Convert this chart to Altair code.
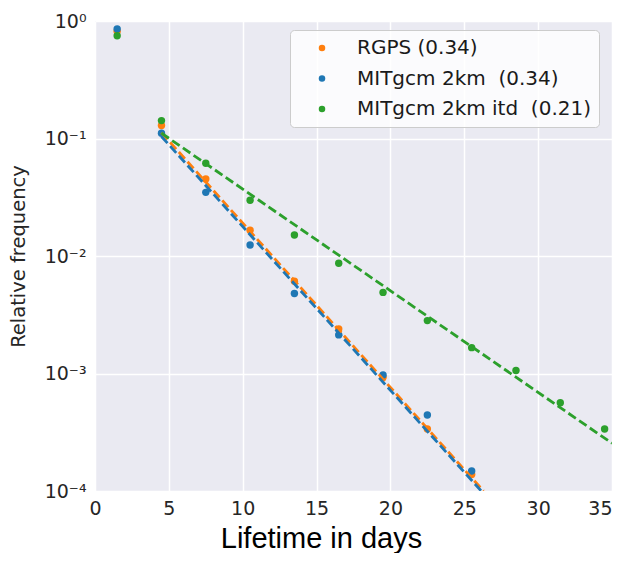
import altair as alt
import pandas as pd

# ---- data ----
x_days = [1.5, 4.5, 7.5, 10.5, 13.5, 16.5, 19.5, 22.5, 25.5, 28.5, 31.5, 34.5]
rgps = [0.82, 0.129, 0.0452, 0.0166, 0.0061, 0.00239, 0.00093, 0.000337, 0.000138]
mitgcm = [0.855, 0.111, 0.0348, 0.0124, 0.0048, 0.00213, 0.00097, 0.000444, 0.000148]
mitgcm_itd = [0.75, 0.142, 0.0615, 0.0298, 0.0151, 0.00867, 0.0049, 0.00282,
              0.00166, 0.00106, 0.000564, 0.000337]

# fitted exponential lines (end points)
fit_rgps_x = [4.5, 26.3]
fit_rgps_y = [0.112, 0.0001]
fit_mit_x = [4.5, 26.15]
fit_mit_y = [0.104, 0.0001]
fit_itd_x = [4.5, 35.0]
fit_itd_y = [0.111, 0.000255]

names = ["RGPS (0.34)", "MITgcm 2km\u00a0 (0.34)", "MITgcm 2km itd\u00a0 (0.21)"]
colors = ["#ff7f0e", "#1f77b4", "#2ca02c"]
y_ticks = [1, 0.1, 0.01, 0.001, 0.0001]
x_ticks = [0, 5, 10, 15, 20, 25, 30, 35]

rows = []
for name, vals in zip(names, [rgps, mitgcm, mitgcm_itd]):
    for i, v in enumerate(vals):
        rows.append({"series": name, "x": x_days[i], "y": v, "order": names.index(name)})
pts = pd.DataFrame(rows)

frows = []
for name, xs, ys in zip(names, [fit_rgps_x, fit_mit_x, fit_itd_x],
                        [fit_rgps_y, fit_mit_y, fit_itd_y]):
    for xv, yv in zip(xs, ys):
        frows.append({"series": name, "x": xv, "y": yv})
fits = pd.DataFrame(frows)

xscale = alt.Scale(domain=[0, 35], nice=False, zero=False)
yscale = alt.Scale(type="log", domain=[0.0001, 1], nice=False)

label_expr = ("datum.value >= 0.5 ? '10⁰' : datum.value >= 0.05 ? '10⁻¹' : "
              "datum.value >= 0.005 ? '10⁻²' : datum.value >= 0.0005 ? '10⁻³' : '10⁻⁴'")

xaxis = alt.Axis(values=x_ticks, title="Lifetime in days", grid=True, labelFlush=False,
                 labelAlign={"condition": {"test": "datum.value >= 35", "value": "right"},
                             "value": "center"},
                 titleFont="Liberation Sans", titleFontSize=29, titleFontWeight="normal",
                 titleColor="#000000", titleX=226, titleY=56, titleAlign="center",
                 titleBaseline="alphabetic", labelPadding=8)
yaxis = alt.Axis(values=y_ticks, title="Relative frequency", grid=True, labelExpr=label_expr,
                 labelFlush=False,
                 titleFontSize=19.5, titleFontWeight="normal", titleColor="#262626",
                 titleX=-77, titleY=235, titleAngle=-90, titleAlign="center",
                 titleBaseline="middle", labelPadding=9)

points = alt.Chart(pts).mark_circle(size=55, opacity=1).encode(
    x=alt.X("x:Q", scale=xscale, axis=xaxis),
    y=alt.Y("y:Q", scale=yscale, axis=yaxis),
    color=alt.Color("series:N", scale=alt.Scale(domain=names, range=colors),
                    sort=names,
                    legend=alt.Legend(title=None, orient="none", legendX=195, legendY=9)),
    order=alt.Order("order:Q"),
)

lines = alt.Chart(fits).mark_line(strokeWidth=2.8, strokeDash=[9, 4], clip=True).encode(
    x=alt.X("x:Q", scale=xscale),
    y=alt.Y("y:Q", scale=yscale),
    color=alt.Color("series:N", scale=alt.Scale(domain=names, range=colors), legend=None),
    detail="series:N",
)

chart = alt.layer(points, lines).resolve_scale(color="independent").properties(
    width=517, height=470,
    autosize=alt.AutoSizeParams(type="none"),
    padding={"left": 87, "top": 13, "right": 1, "bottom": 62},
).configure_view(
    fill="#EAEAF2", stroke=None
).configure_axis(
    domain=False, ticks=False, gridColor="#ffffff", gridWidth=1.5,
    labelFont="DejaVu Sans", labelFontSize=19, labelColor="#262626",
    titleFont="DejaVu Sans",
).configure_legend(
    labelFont="DejaVu Sans", labelFontSize=20, labelColor="#1a1a1a",
    symbolType="circle", symbolSize=42, symbolOffset=14, labelOffset=25,
    rowPadding=10.5, padding=8, fillColor="rgba(255,255,255,0.8)",
    strokeColor="#cccccc", cornerRadius=4, labelLimit=400,
)

chart.save("out.html", embed_options={"renderer": "svg", "actions": False})
